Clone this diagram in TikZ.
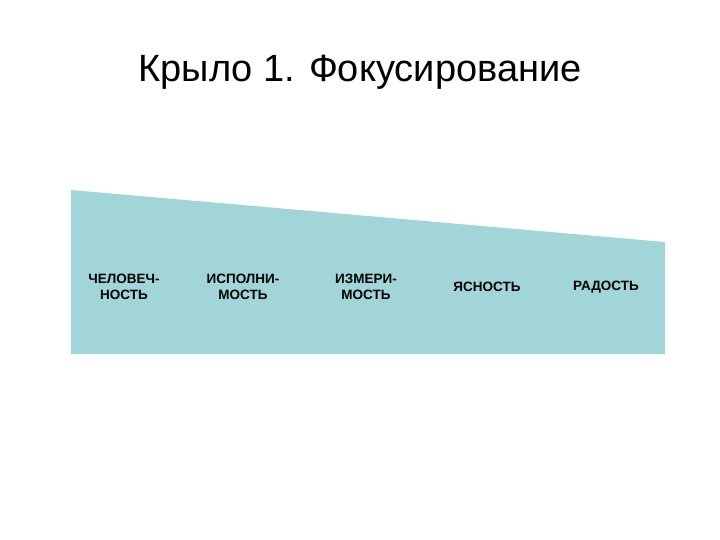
\documentclass[tikz,border=0pt]{standalone}
\usepackage{fontspec}
\setmainfont{Liberation Sans}
\definecolor{teal}{HTML}{A2D5D8}
\begin{document}
\begin{tikzpicture}[x=1pt,y=-1pt,
lab/.style={font=\fontsize{13.5}{16}\selectfont\bfseries,align=center}]
\useasboundingbox (0,0) rectangle (720,540);
\fill[teal] (71,190) -- (665,242) -- (665,354) -- (71,354) -- cycle;
\node[font=\fontsize{38}{44}\selectfont] (title) at (360,72) {Крыло 1. Фокусирование};
\node[lab] (a) at (124,287) {ЧЕЛОВЕЧ-\\НОСТЬ};
\node[lab] (b) at (243,287) {ИСПОЛНИ-\\МОСТЬ};
\node[lab] (c) at (366,287) {ИЗМЕРИ-\\МОСТЬ};
\node[lab] (d) at (487,287) {ЯСНОСТЬ};
\node[lab] (e) at (606,287) {РАДОСТЬ};
\end{tikzpicture}
\end{document}
